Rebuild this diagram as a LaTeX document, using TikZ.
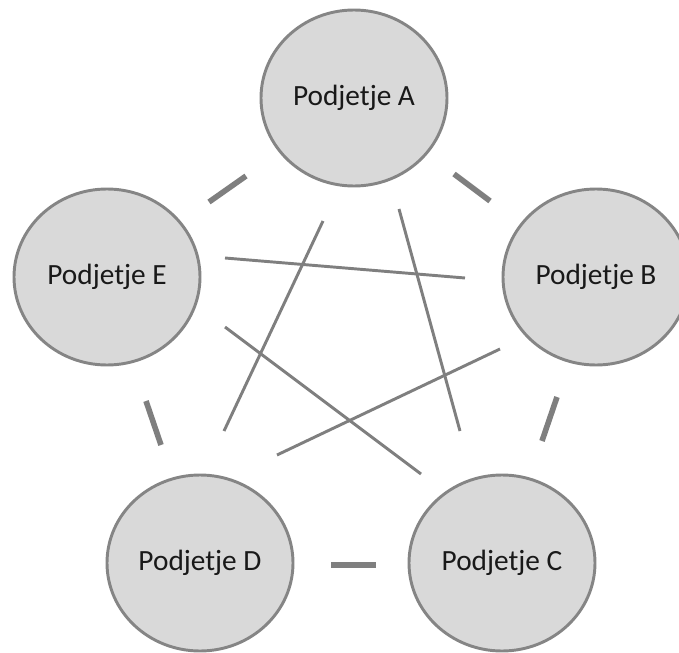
\documentclass[tikz,border=0pt]{standalone}
\usepackage{fontspec}
\setmainfont{Carlito}
\usetikzlibrary{shapes.geometric}
\definecolor{firmfill}{HTML}{D9D9D9}
\definecolor{firmedge}{HTML}{858585}
\definecolor{linkgray}{HTML}{7F7F7F}
\tikzset{
  firm/.style={ellipse, draw=firmedge, line width=2.2pt, fill=firmfill,
    minimum width=139.5pt, minimum height=132pt, inner sep=0pt,
    font=\fontsize{22}{26}\selectfont, text=black!90},
  shortlink/.style={draw=linkgray, line width=4.2pt},
  longlink/.style={draw=linkgray, line width=2.2pt},
}
\begin{document}
\begin{tikzpicture}[x=0.75pt, y=-0.75pt]
  \useasboundingbox (0,0) rectangle (679,653);

  % companies
  \node[firm] (A) at (354,98)  {Podjetje A};
  \node[firm] (E) at (107,277) {Podjetje E};
  \node[firm] (B) at (596,277) {Podjetje B};
  \node[firm] (D) at (200,563) {Podjetje D};
  \node[firm] (C) at (502,563) {Podjetje C};

  % end points of the links between neighbours
  \coordinate (ea1) at (209,202); \coordinate (ea2) at (246,176);
  \coordinate (ab1) at (454,174); \coordinate (ab2) at (490,201);
  \coordinate (ed1) at (146,401); \coordinate (ed2) at (161,445);
  \coordinate (bc1) at (557,397); \coordinate (bc2) at (542,441);
  \coordinate (dc1) at (331,565); \coordinate (dc2) at (376,565);

  % end points of the links across the ring
  \coordinate (eb1) at (225,258); \coordinate (eb2) at (465,278);
  \coordinate (ad1) at (323,221); \coordinate (ad2) at (224,431);
  \coordinate (ac1) at (399,209); \coordinate (ac2) at (460,431);
  \coordinate (ec1) at (225,327); \coordinate (ec2) at (421,474);
  \coordinate (bd1) at (500,349); \coordinate (bd2) at (277,455);

  \draw[shortlink] (ea1) -- (ea2);
  \draw[shortlink] (ab1) -- (ab2);
  \draw[shortlink] (ed1) -- (ed2);
  \draw[shortlink] (bc1) -- (bc2);
  \draw[shortlink] (dc1) -- (dc2);

  \draw[longlink] (eb1) -- (eb2);
  \draw[longlink] (ad1) -- (ad2);
  \draw[longlink] (ac1) -- (ac2);
  \draw[longlink] (ec1) -- (ec2);
  \draw[longlink] (bd1) -- (bd2);
\end{tikzpicture}
\end{document}
